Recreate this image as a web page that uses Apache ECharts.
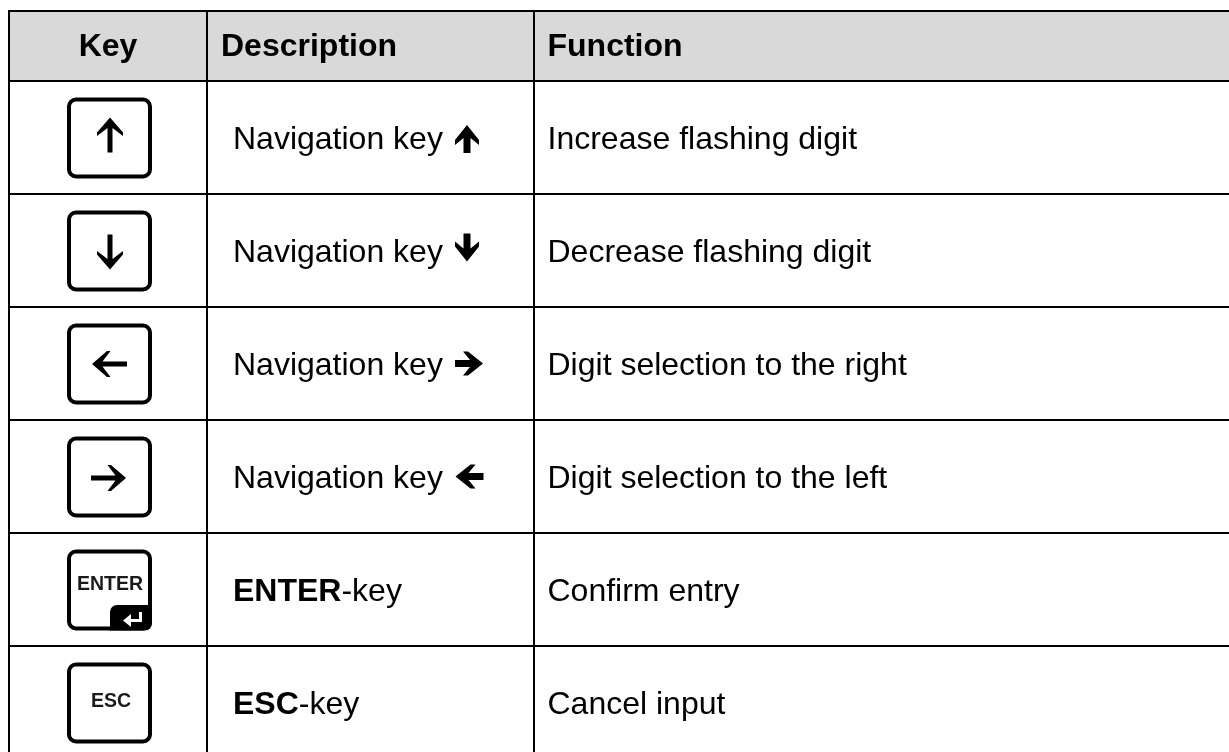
<!DOCTYPE html>
<html>
<head>
<meta charset="utf-8">
<style>html,body{margin:0;padding:0;background:#fff}#c{width:1229px;height:752px}</style>
<script src="https://cdn.jsdelivr.net/npm/echarts@6/dist/echarts.min.js"></script>
</head>
<body>
<div id="c"></div>
<script>
// ---- table content ----
const headers = ['Key', 'Description', 'Function'];
const keyCaps = ['up', 'down', 'left', 'right', 'ENTER', 'ESC'];
const descriptions = ['Navigation key ', 'Navigation key ', 'Navigation key ', 'Navigation key ', '{b|ENTER}-key', '{b|ESC}-key'];
const descriptionArrows = ['up', 'down', 'right', 'left', '', ''];
const functions = ['Increase flashing digit', 'Decrease flashing digit', 'Digit selection to the right', 'Digit selection to the left', 'Confirm entry', 'Cancel input'];

// ---- table layout ----
const W = 1229, H = 752;
const rules = [11, 81, 194, 307, 420, 533, 646];
const columns = [9, 207, 534];
const FONT = '"Liberation Sans", Arial, sans-serif';
const TEXT_SIZE = 32;
const TEXT_SHIFT = 2.5;
const rowIdx = keyCaps.map((_, i) => i);

const thinHead = [[0,0],[13,15],[13,18.5],[2.5,10.5],[2.5,35],[-2.5,35],[-2.5,10.5],[-13,18.5],[-13,15]];
const boldHead = [[0,0],[12,15],[12,20],[3.5,13],[3.5,28],[-3.5,28],[-3.5,13],[-12,20],[-12,15]];

function arrow(api, outline, dir, cx, cy, len) {
  const h = len / 2;
  const pts = outline.map(([x, y]) => {
    if (dir === 'up') return [cx + x, cy - h + y];
    if (dir === 'down') return [cx - x, cy + h - y];
    if (dir === 'right') return [cx + h - y, cy + x];
    return [cx - h + y, cy + x];
  }).map(p => api.coord(p));
  return { type: 'polygon', shape: { points: pts }, style: { fill: '#000' } };
}
function label(api, text, x, y, size, weight, align, extra) {
  const p = api.coord([x, y]);
  return { type: 'text', style: Object.assign({
    text: text, x: p[0], y: p[1], fill: '#000', align: align || 'left', verticalAlign: 'middle',
    fontFamily: FONT, fontSize: size, fontWeight: weight || 'normal'
  }, extra || {}) };
}
function line(api, a, b) {
  const p = api.coord(a), q = api.coord(b);
  return { type: 'line', shape: { x1: p[0], y1: p[1], x2: q[0], y2: q[1] }, style: { stroke: '#000', lineWidth: 2 } };
}

function renderFrame(params, api) {
  const tl = api.coord([columns[0], rules[0]]), br = api.coord([W, rules[1]]);
  const ch = [{ type: 'rect', shape: { x: tl[0], y: tl[1], width: br[0] - tl[0], height: br[1] - tl[1] }, style: { fill: '#d9d9d9' } }];
  rules.forEach(y => ch.push(line(api, [columns[0] - 1, y], [W, y])));
  columns.forEach(x => ch.push(line(api, [x, rules[0]], [x, H])));
  ch.push(label(api, headers[0], 108, 47, TEXT_SIZE, 'bold', 'center'));
  ch.push(label(api, headers[1], 221, 47, TEXT_SIZE, 'bold'));
  ch.push(label(api, headers[2], 547.5, 47, TEXT_SIZE, 'bold'));
  return { type: 'group', children: ch };
}

function renderRow(params, api) {
  const i = api.value(0);
  const top = rules[i + 1], cy = (top + (rules[i + 2] || top + 113)) / 2 + TEXT_SHIFT;
  const cap = keyCaps[i];
  const boxTop = api.coord([69, top + 18.5]), boxBot = api.coord([150, top + 95.5]);
  const ch = [];
  if (cap === 'ENTER') {
    const a = api.coord([110, top + 72]);
    ch.push({ type: 'rect', shape: { x: a[0], y: a[1], width: 42, height: 25.5, r: [7, 0, 7, 0] }, style: { fill: '#000' } });
  }
  ch.push({ type: 'rect', shape: { x: boxTop[0], y: boxTop[1], width: boxBot[0] - boxTop[0], height: boxBot[1] - boxTop[1], r: 7 },
            style: { fill: 'none', stroke: '#000', lineWidth: 4 } });
  if (cap === 'up') ch.push(arrow(api, thinHead, 'up', 110, top + 54, 35));
  else if (cap === 'down') ch.push(arrow(api, thinHead, 'down', 110, top + 58, 35));
  else if (cap === 'left') ch.push(arrow(api, thinHead, 'left', 109.5, top + 57, 35));
  else if (cap === 'right') ch.push(arrow(api, thinHead, 'right', 108.5, top + 58, 35));
  else if (cap === 'ENTER') {
    ch.push(label(api, cap, 110, top + 52, 19.5, 'bold', 'center', { fill: '#1a1a1a' }));
    const h = api.coord([140.5, top + 79]), j = api.coord([140.5, top + 87.5]), k = api.coord([128, top + 87.5]);
    ch.push({ type: 'polyline', shape: { points: [h, j, k] }, style: { stroke: '#fff', lineWidth: 3, fill: 'none' } });
    const t = api.coord([123, top + 87.5]), u = api.coord([131, top + 81]), v = api.coord([131, top + 94]);
    ch.push({ type: 'polygon', shape: { points: [t, u, v] }, style: { fill: '#fff' } });
  } else {
    ch.push(label(api, cap, 111, top + 56, 19.5, 'bold', 'center', { fill: '#1a1a1a' }));
  }
  ch.push(label(api, descriptions[i], 233, cy, TEXT_SIZE, 'normal', 'left', {
    rich: { b: { fontFamily: FONT, fontSize: TEXT_SIZE, fontWeight: 'bold', fill: '#000' } }
  }));
  const dir = descriptionArrows[i];
  if (dir === 'up') ch.push(arrow(api, boldHead, dir, 467, top + 58, 28));
  if (dir === 'down') ch.push(arrow(api, boldHead, dir, 467, top + 53.5, 28));
  if (dir === 'right') ch.push(arrow(api, boldHead, dir, 469, top + 56.5, 28));
  if (dir === 'left') ch.push(arrow(api, boldHead, dir, 469.5, top + 56.5, 28));
  ch.push(label(api, functions[i], 547.5, cy, TEXT_SIZE));
  return { type: 'group', children: ch };
}

const chart = echarts.init(document.getElementById('c'), null, { renderer: 'canvas' });
chart.setOption({
  animation: false,
  backgroundColor: '#fff',
  grid: { left: 0, right: 0, top: 0, bottom: 0 },
  xAxis: { type: 'value', min: 0, max: W, show: false },
  yAxis: { type: 'value', min: 0, max: H, inverse: true, show: false },
  tooltip: { show: false },
  series: [
    { type: 'custom', silent: true, clip: false, encode: { x: 0, y: 0 }, data: [[0]], renderItem: renderFrame },
    { type: 'custom', silent: true, clip: false, encode: { x: 0, y: 0 }, data: rowIdx.map(i => [i]), renderItem: renderRow }
  ]
});
</script>
</body>
</html>
